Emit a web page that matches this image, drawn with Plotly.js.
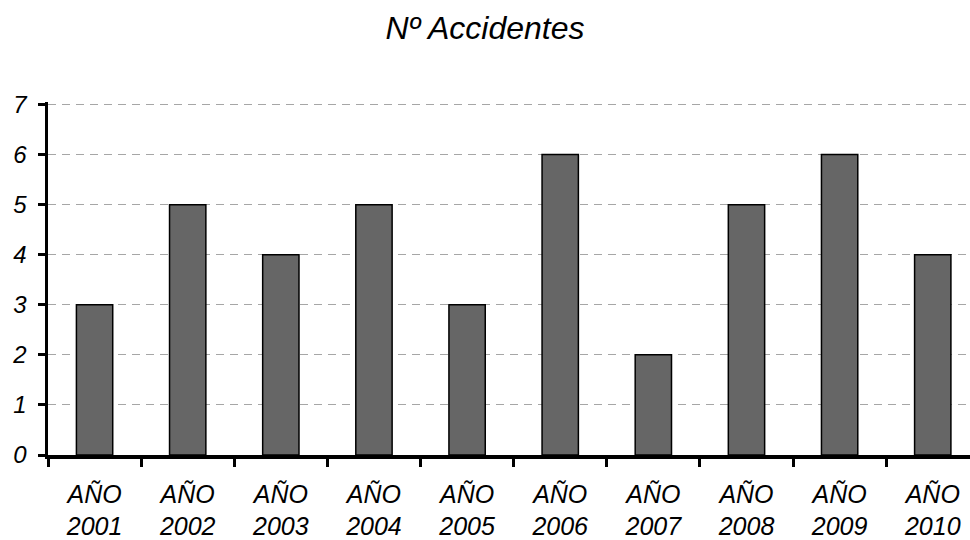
<!DOCTYPE html>
<html>
<head>
<meta charset="utf-8">
<script src="https://cdn.plot.ly/plotly-3.0.1.min.js"></script>
<style>html,body{margin:0;padding:0;background:#fff}#chart{width:970px;height:540px}</style>
</head>
<body>
<div id="chart"></div>
<script>
var categories = ["AÑO<br>2001","AÑO<br>2002","AÑO<br>2003","AÑO<br>2004","AÑO<br>2005","AÑO<br>2006","AÑO<br>2007","AÑO<br>2008","AÑO<br>2009","AÑO<br>2010"];
var accidentes = [3, 5, 4, 5, 3, 6, 2, 5, 6, 4];
var yTicks = [0, 1, 2, 3, 4, 5, 6, 7];

var font = {family: "Liberation Sans, Arial, sans-serif", color: "#000"};

Plotly.newPlot("chart", [{
  type: "bar",
  x: categories,
  y: accidentes,
  width: 0.39,
  marker: {color: "#666666", line: {color: "#000", width: 1.5}},
  hoverinfo: "skip"
}], {
  width: 970, height: 540,
  margin: {l: 48, r: 0, t: 102, b: 85},
  paper_bgcolor: "#fff", plot_bgcolor: "#fff",
  showlegend: false,
  title: {text: "<i>Nº Accidentes</i>", x: 0.5, xanchor: "center", y: 0.948, yanchor: "middle",
          font: Object.assign({size: 32}, font)},
  xaxis: {
    type: "category",
    range: [-0.5, 9.4],
    showline: true, linecolor: "#000", linewidth: 3.5,
    ticks: "outside", tickson: "boundaries", ticklen: 8, tickwidth: 3, tickcolor: "#000",
    showgrid: false, zeroline: false,
    tickfont: Object.assign({size: 25}, font),
    ticklabelstandoff: 14,
    tickvals: categories,
    ticktext: categories.map(function(c){ return "<i>" + c + "</i>"; })
  },
  yaxis: {
    range: [0, 7.05],
    tickvals: yTicks,
    ticktext: yTicks.map(function(v){ return "<i>" + v + "</i>"; }),
    showline: true, linecolor: "#000", linewidth: 3.5,
    ticks: "outside", ticklen: 7, tickwidth: 3, tickcolor: "#000",
    showgrid: true, gridcolor: "#a6a6a6", gridwidth: 1, griddash: "8px,6px",
    zeroline: false,
    tickfont: Object.assign({size: 24}, font),
    ticklabelstandoff: 6
  }
}, {displayModeBar: false, staticPlot: true});
</script>
</body>
</html>
